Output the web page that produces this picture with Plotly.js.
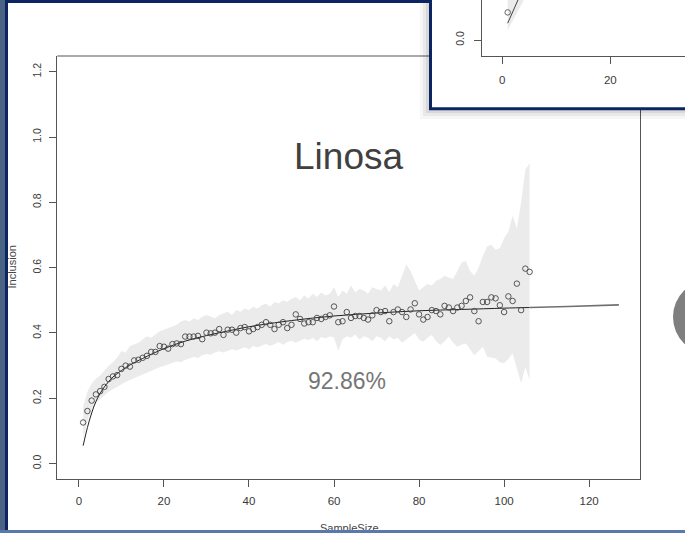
<!DOCTYPE html>
<html><head><meta charset="utf-8">
<script src="https://cdn.plot.ly/plotly-3.0.1.min.js"></script>
<style>html,body{margin:0;padding:0;background:#fff;}#chart{width:685px;height:533px;}</style>
</head><body><div id="chart"></div>
<script>
// ---------- data ----------
const sampleSize = [1,2,3,4,5,6,7,8,9,10,11,12,13,14,15,16,17,18,19,20,21,22,23,24,25,26,27,28,29,30,31,32,33,34,35,36,37,38,39,40,41,42,43,44,45,46,47,48,49,50,51,52,53,54,55,56,57,58,59,60,61,62,63,64,65,66,67,68,69,70,71,72,73,74,75,76,77,78,79,80,81,82,83,84,85,86,87,88,89,90,91,92,93,94,95,96,97,98,99,100,101,102,103,104,105,106];
const inclusion = [0.126,0.161,0.193,0.212,0.222,0.235,0.259,0.267,0.271,0.29,
0.30,0.297,0.316,0.318,0.324,0.33,0.342,0.342,0.36,0.358,
0.352,0.366,0.368,0.366,0.389,0.389,0.389,0.391,0.381,0.401,
0.399,0.401,0.412,0.394,0.41,0.41,0.401,0.415,0.418,0.405,
0.412,0.418,0.425,0.433,0.425,0.412,0.425,0.433,0.415,0.425,
0.457,0.443,0.429,0.433,0.433,0.446,0.443,0.449,0.454,0.481,
0.433,0.436,0.464,0.446,0.452,0.452,0.446,0.441,0.454,0.47,
0.464,0.467,0.436,0.464,0.472,0.464,0.449,0.472,0.491,0.457,
0.441,0.449,0.47,0.467,0.457,0.483,0.478,0.467,0.478,0.483,
0.498,0.509,0.467,0.436,0.495,0.495,0.509,0.506,0.485,0.464,
0.512,0.498,0.551,0.470,0.597,0.587];
const bandUpper = [0.175,0.22,0.245,0.26,0.27,0.285,0.30,0.31,0.325,0.345,
0.34,0.36,0.365,0.37,0.38,0.39,0.385,0.395,0.405,0.41,
0.415,0.42,0.425,0.435,0.44,0.435,0.445,0.44,0.45,0.455,
0.45,0.445,0.455,0.46,0.465,0.455,0.47,0.465,0.475,0.47,
0.48,0.475,0.485,0.49,0.48,0.495,0.49,0.50,0.495,0.505,
0.51,0.50,0.515,0.505,0.52,0.51,0.525,0.515,0.52,0.54,
0.51,0.53,0.52,0.545,0.525,0.535,0.53,0.52,0.54,0.535,
0.53,0.545,0.525,0.55,0.54,0.575,0.61,0.59,0.56,0.53,
0.54,0.55,0.545,0.56,0.565,0.575,0.57,0.565,0.59,0.615,
0.62,0.59,0.575,0.60,0.635,0.665,0.67,0.655,0.66,0.69,
0.71,0.76,0.72,0.80,0.90,0.92];
const bandLower = [0.076,0.13,0.165,0.185,0.198,0.21,0.22,0.228,0.236,0.243,
0.25,0.256,0.262,0.268,0.274,0.28,0.285,0.29,0.295,0.3,
0.305,0.31,0.313,0.31,0.318,0.322,0.327,0.323,0.332,0.336,
0.333,0.34,0.344,0.34,0.346,0.35,0.346,0.352,0.356,0.35,
0.36,0.356,0.362,0.366,0.36,0.366,0.372,0.364,0.372,0.376,
0.37,0.376,0.382,0.378,0.385,0.375,0.388,0.383,0.39,0.386,
0.345,0.38,0.39,0.385,0.395,0.38,0.39,0.385,0.375,0.39,
0.385,0.375,0.39,0.38,0.385,0.37,0.38,0.39,0.40,0.38,
0.373,0.385,0.394,0.375,0.363,0.375,0.389,0.37,0.358,0.365,
0.368,0.35,0.332,0.345,0.358,0.327,0.325,0.322,0.31,0.307,
0.32,0.338,0.292,0.246,0.296,0.256];
const fitX = [1,2,3,4,5,6,8,10,12,15,20,25,30,35,40,50,60,70,80,90,100,106,115,127];
const fitY = [0.055,0.11,0.155,0.19,0.215,0.235,0.265,0.285,0.302,0.322,0.352,0.375,0.392,0.406,0.419,0.438,0.452,0.461,0.468,0.472,0.476,0.478,0.481,0.486];
const xTicks = [0,20,40,60,80,100,120];
const yTicks = [0,0.2,0.4,0.6,0.8,1.0,1.2];
const yTickLabels = ['0.0','0.2','0.4','0.6','0.8','1.0','1.2'];
// inset (partial view of another chart)
const insetPointX = [1];
const insetPointY = [0.069];
const insetFitX = [1,2,3,4];
const insetFitY = [0.042,0.075,0.103,0.125];
const insetBandX = [1,2,3,4];
const insetBandUpper = [0.10,0.13,0.16,0.19];
const insetBandLower = [0.025,0.05,0.075,0.10];
const insetXTicks = [0,20];
const insetYTicks = [0];
const insetYTickLabels = ['0.0'];
const titleText = 'Linosa';
const percentText = '92.86%';

// ---------- helpers (pixel -> paper) ----------
const W = 685, H = 533;
const px = v => v / W;
const py = v => 1 - v / H;
const sansFont = 'Liberation Sans, Arial, sans-serif';

const fitSplit = fitX.indexOf(106);
const traces = [
  {x: sampleSize, y: bandUpper, mode: 'lines', line: {width: 0, color: 'rgba(0,0,0,0)'}, hoverinfo: 'skip', xaxis: 'x', yaxis: 'y'},
  {x: sampleSize, y: bandLower, mode: 'lines', line: {width: 0, color: 'rgba(0,0,0,0)'}, fill: 'tonexty', fillcolor: '#ebebeb', hoverinfo: 'skip', xaxis: 'x', yaxis: 'y'},
  {x: fitX.slice(0, fitSplit + 1), y: fitY.slice(0, fitSplit + 1), mode: 'lines', line: {color: '#222', width: 1, shape: 'spline'}, xaxis: 'x', yaxis: 'y'},
  {x: fitX.slice(fitSplit), y: fitY.slice(fitSplit), mode: 'lines', line: {color: '#707070', width: 1.6, shape: 'spline'}, xaxis: 'x', yaxis: 'y'},
  {x: sampleSize, y: inclusion, mode: 'markers', marker: {symbol: 'circle-open', size: 5.5, color: '#454545', line: {width: 0.9, color: '#454545'}}, xaxis: 'x', yaxis: 'y'},
  // inset
  {x: insetBandX, y: insetBandUpper, mode: 'lines', line: {width: 0, color: 'rgba(0,0,0,0)'}, xaxis: 'x2', yaxis: 'y2'},
  {x: insetBandX, y: insetBandLower, mode: 'lines', line: {width: 0, color: 'rgba(0,0,0,0)'}, fill: 'tonexty', fillcolor: '#ebebeb', xaxis: 'x2', yaxis: 'y2'},
  {x: insetFitX, y: insetFitY, mode: 'lines', line: {color: '#444', width: 1}, xaxis: 'x2', yaxis: 'y2'},
  {x: insetPointX, y: insetPointY, mode: 'markers', marker: {symbol: 'circle-open', size: 5.5, color: '#555', line: {width: 0.9, color: '#555'}}, xaxis: 'x2', yaxis: 'y2'}
];

const axisCommon = {
  showgrid: false, zeroline: false, showline: true, linecolor: '#555', linewidth: 1,
  ticks: 'outside', ticklen: 7, tickcolor: '#555', tickwidth: 1,
  tickfont: {family: sansFont, size: 10.5, color: '#3a3a3a'}, fixedrange: true
};
const xTickFont = {family: sansFont, size: 11.5, color: '#3a3a3a'};

const layout = {
  width: W, height: H,
  margin: {l: 0, r: 0, t: 0, b: 0},
  paper_bgcolor: '#ffffff', plot_bgcolor: 'rgba(0,0,0,0)',
  showlegend: false,
  xaxis: Object.assign({}, axisCommon, {domain: [px(57.3), px(640.5)], range: [-5.08, 132.08], tickmode: 'array', tickvals: xTicks, anchor: 'y', ticklabelstandoff: 4, tickfont: xTickFont}),
  yaxis: Object.assign({}, axisCommon, {domain: [py(479.3), py(56)], range: [-0.048, 1.248], tickmode: 'array', tickvals: yTicks, ticktext: yTickLabels, tickangle: -90, anchor: 'x', ticklabelstandoff: 4}),
  xaxis2: Object.assign({}, axisCommon, {domain: [px(481.7), 1], range: [-3.81, 33.83], tickmode: 'array', tickvals: insetXTicks, anchor: 'y2', ticklabelstandoff: 6, tickfont: xTickFont}),
  yaxis2: Object.assign({}, axisCommon, {domain: [py(56), 1], range: [-0.04, 0.1], tickmode: 'array', tickvals: insetYTicks, ticktext: insetYTickLabels, tickangle: -90, anchor: 'x2', ticklabelstandoff: 6}),
  shapes: [
    // main box top & right (partly hidden by the inset)
    {type: 'line', xref: 'paper', yref: 'paper', x0: px(57.3), x1: px(431), y0: py(56), y1: py(56), line: {color: '#555', width: 1}, layer: 'below'},
    {type: 'line', xref: 'paper', yref: 'paper', x0: px(640.5), x1: px(640.5), y0: py(110), y1: py(479.3), line: {color: '#555', width: 1}, layer: 'below'},
    // inset shadow
    {type: 'rect', xref: 'paper', yref: 'paper', x0: px(420), x1: px(695), y0: py(-10), y1: py(119), fillcolor: 'rgba(0,0,0,0.035)', line: {width: 0}, layer: 'below'},
    {type: 'rect', xref: 'paper', yref: 'paper', x0: px(423), x1: px(695), y0: py(-10), y1: py(116), fillcolor: 'rgba(0,0,0,0.05)', line: {width: 0}, layer: 'below'},
    {type: 'rect', xref: 'paper', yref: 'paper', x0: px(426), x1: px(695), y0: py(-10), y1: py(113), fillcolor: 'rgba(0,0,0,0.07)', line: {width: 0}, layer: 'below'},
    // inset frame
    {type: 'rect', xref: 'paper', yref: 'paper', x0: px(430.5), x1: px(700), y0: py(-10), y1: py(108.7), fillcolor: '#ffffff', line: {color: '#0c2461', width: 3}, layer: 'below'},
    // grey circle at right edge
    {type: 'circle', xref: 'paper', yref: 'paper', x0: px(673), x1: px(747), y0: py(354), y1: py(280), fillcolor: '#7f7f7f', line: {width: 0}, layer: 'below'},
    // top navy edge
    {type: 'rect', xref: 'paper', yref: 'paper', x0: 0, x1: px(430), y0: py(3), y1: py(-2), fillcolor: '#0c2461', line: {width: 0}, layer: 'below'}
  ],
  annotations: [
    {xref: 'paper', yref: 'paper', x: px(348.5), y: py(156), text: titleText, showarrow: false, xanchor: 'center', yanchor: 'middle', font: {family: sansFont, size: 37, color: '#404040'}},
    {xref: 'paper', yref: 'paper', x: px(347), y: py(380.5), text: percentText, showarrow: false, xanchor: 'center', yanchor: 'middle', font: {family: 'Liberation Sans Narrow, Arial Narrow, Liberation Sans, sans-serif', size: 23, color: '#767676'}},
    {xref: 'paper', yref: 'paper', x: px(11.5), y: py(267), text: 'Inclusion', textangle: -90, showarrow: false, xanchor: 'center', yanchor: 'middle', font: {family: sansFont, size: 11, color: '#444'}},
    {xref: 'paper', yref: 'paper', x: px(349), y: py(528), text: 'SampleSize', showarrow: false, xanchor: 'center', yanchor: 'middle', font: {family: sansFont, size: 11, color: '#444'}},
    // left slide edge (covers part of the y title)
    {xref: 'paper', yref: 'paper', x: 0, y: 1, xanchor: 'left', yanchor: 'top', text: ' ', showarrow: false, width: 5, height: 533, bgcolor: '#4a6284', borderpad: 0, borderwidth: 0, font: {size: 2}},
    {xref: 'paper', yref: 'paper', x: px(5), y: 1, xanchor: 'left', yanchor: 'top', text: ' ', showarrow: false, width: 3, height: 533, bgcolor: '#0c2461', borderpad: 0, borderwidth: 0, font: {size: 2}},
    // bottom slide edge (covers lower half of the x title)
    {xref: 'paper', yref: 'paper', x: 0, y: py(529.5), xanchor: 'left', yanchor: 'top', text: ' ', showarrow: false, width: 685, height: 4, bgcolor: '#5a78ab', borderpad: 0, borderwidth: 0, font: {size: 2}}
  ]
};

Plotly.newPlot('chart', traces, layout, {displayModeBar: false, staticPlot: true});
</script>
</body></html>
